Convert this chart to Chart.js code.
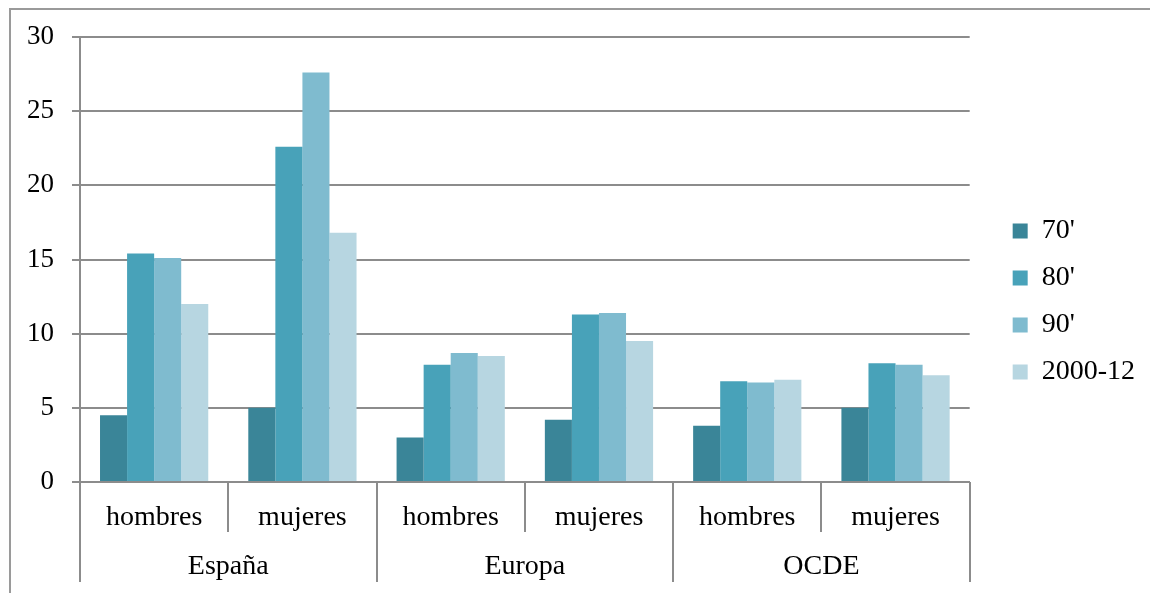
<!DOCTYPE html>
<html>
<head>
<meta charset="utf-8">
<script src="https://cdn.jsdelivr.net/npm/chart.js@4.4.1/dist/chart.umd.min.js"></script>
<style>
  html, body { margin: 0; padding: 0; background: #fff; }
  #wrap { position: relative; width: 1150px; height: 593px; overflow: hidden; }
  #frame { position: absolute; left: 9px; top: 8px; right: -4px; bottom: -4px;
           border-top: 2px solid #9a9a9a; border-left: 2px solid #9a9a9a; }
  canvas { position: absolute; left: 0; top: 0; }
</style>
</head>
<body>
<div id="wrap">
  <div id="frame"></div>
  <canvas id="chart" width="1150" height="593"></canvas>
</div>
<script>
// regions, sexes and decades
const groups = ['España', 'Europa', 'OCDE'];
const sexes = ['hombres', 'mujeres'];
const decades = ["70'", "80'", "90'", '2000-12'];
const colours = ['#3a8598', '#48a2b9', '#7fbbcf', '#b7d6e1'];

// one value per bar: España h/m, Europa h/m, OCDE h/m
const v70 = [4.5, 5.0, 3.0, 4.2, 3.8, 5.0];
const v80 = [15.4, 22.6, 7.9, 11.3, 6.8, 8.0];
const v90 = [15.1, 27.6, 8.7, 11.4, 6.7, 7.9];
const v2000 = [12.0, 16.8, 8.5, 9.5, 6.9, 7.2];

const yMin = 0;
const yMax = 30;
const yStep = 5;

const labels = groups.flatMap(() => sexes);
const series = [v70, v80, v90, v2000];

const gridColour = '#8c8c8c';

Chart.defaults.font.family = "'Liberation Serif', serif";
Chart.defaults.color = '#000';

// vertical dividers under the x axis: short ones between sexes, long ones between regions
const dividers = {
  id: 'dividers',
  afterDraw(chart) {
    const ctx = chart.ctx;
    const x = chart.scales.x;
    const x2 = chart.scales.x2;
    const top = chart.chartArea.bottom;
    const step = (x.right - x.left) / labels.length;
    ctx.save();
    ctx.strokeStyle = gridColour;
    ctx.lineWidth = 2;
    for (let i = 0; i <= labels.length; i++) {
      const px = Math.round(x.left + i * step);
      const bottom = i % sexes.length === 0 ? x2.bottom : x.bottom;
      ctx.beginPath();
      ctx.moveTo(px, top);
      ctx.lineTo(px, bottom);
      ctx.stroke();
    }
    ctx.restore();
  }
};

// empty strip used only to reserve layout space
const spacer = (position, size) => ({
  type: 'linear',
  position: position,
  grid: { display: false, drawTicks: false },
  border: { display: false },
  ticks: { display: false },
  afterFit: s => {
    if (s.isHorizontal()) s.height = size; else s.width = size;
  }
});

new Chart(document.getElementById('chart'), {
  type: 'bar',
  data: {
    labels: labels,
    datasets: decades.map((d, i) => ({
      label: d,
      data: series[i],
      backgroundColor: colours[i],
      borderWidth: 0,
      barPercentage: 1,
      categoryPercentage: 0.73
    }))
  },
  options: {
    responsive: false,
    devicePixelRatio: 1,
    animation: false,
    layout: { padding: { top: 21, right: 5, bottom: 11, left: 0 } },
    plugins: {
      tooltip: { enabled: false },
      legend: {
        position: 'right',
        labels: {
          boxWidth: 15,
          boxHeight: 15,
          padding: 19,
          font: { size: 28 },
          color: '#000'
        }
      }
    },
    scales: {
      x: {
        grid: { display: false, drawTicks: false },
        border: { display: true, color: gridColour, width: 2 },
        ticks: { font: { size: 28 }, padding: 19, maxRotation: 0, autoSkip: false },
        afterFit: s => { s.height = 50; }
      },
      x2: {
        type: 'category',
        labels: groups,
        position: 'bottom',
        offset: true,
        grid: { display: false, drawTicks: false },
        border: { display: false },
        ticks: { font: { size: 28 }, padding: 18, maxRotation: 0 },
        afterFit: s => { s.height = 50; }
      },
      y: {
        min: yMin,
        max: yMax,
        ticks: { stepSize: yStep, font: { size: 27 }, padding: 18 },
        grid: { color: gridColour, lineWidth: 2, tickLength: 8 },
        border: { color: gridColour, width: 2 },
        afterFit: s => { s.width = 80; }
      },
      headroom: spacer('top', 16),
      gap: spacer('right', 24)
    }
  },
  plugins: [dividers]
});
</script>
</body>
</html>
